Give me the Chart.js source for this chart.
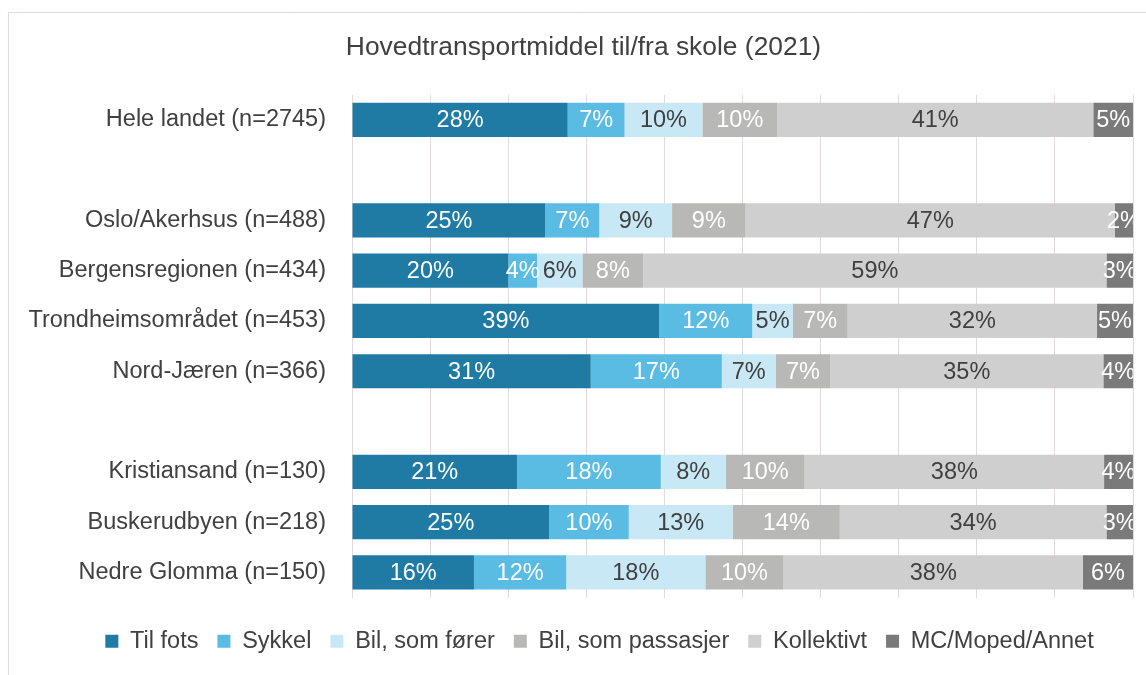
<!DOCTYPE html>
<html>
<head>
<meta charset="utf-8">
<script src="https://cdn.jsdelivr.net/npm/chart.js@4"></script>
<style>
  html, body { margin: 0; padding: 0; background: #fff; }
  #wrap { width: 1146px; height: 675px; position: relative; }
</style>
</head>
<body>
<div id="wrap"><canvas id="chart"></canvas></div>
<script>
// categories, blank entries are spacer rows
var categories = ['Hele landet (n=2745)', '', 'Oslo/Akerhsus (n=488)', 'Bergensregionen (n=434)',
  'Trondheimsområdet (n=453)', 'Nord-Jæren (n=366)', '', 'Kristiansand (n=130)',
  'Buskerudbyen (n=218)', 'Nedre Glomma (n=150)'];

// shares in percent
var tilFots      = [27.7, null, 24.7, 20.0, 39.3, 30.6, null, 21.1, 25.2, 15.6];
var sykkel       = [7.3,  null, 6.9,  3.7,  11.9, 16.8, null, 18.4, 10.2, 11.8];
var bilForer     = [10.0, null, 9.3,  5.8,  5.2,  6.9,  null, 8.3,  13.3, 17.8];
var bilPassasjer = [9.6,  null, 9.4,  7.8,  7.0,  7.0,  null, 10.1, 13.7, 10.0];
var kollektivt   = [40.6, null, 47.2, 59.3, 31.9, 35.0, null, 38.3, 34.1, 38.3];
var mcAnnet      = [5.1,  null, 2.3,  3.4,  4.6,  3.8,  null, 3.7,  3.4,  6.4];

var seriesNames = ['Til fots', 'Sykkel', 'Bil, som fører', 'Bil, som passasjer', 'Kollektivt', 'MC/Moped/Annet'];
var seriesData = [tilFots, sykkel, bilForer, bilPassasjer, kollektivt, mcAnnet];
var colors = ['#1F7BA3', '#5BBCE3', '#C8E8F5', '#B8B9B7', '#D0CFD0', '#7A7A7A'];
var labelColors = ['#fff', '#fff', '#404040', '#fff', '#404040', '#fff'];

// 100% stacked: normalise each row to its total
var rowTotals = categories.map(function(c, i) {
  var s = 0;
  seriesData.forEach(function(d) { if (d[i] != null) s += d[i]; });
  return s;
});

var datasets = seriesData.map(function(d, k) {
  return {
    label: seriesNames[k],
    data: d.map(function(v, i) { return v == null ? null : v / rowTotals[i] * 100; }),
    raw: d,
    backgroundColor: colors[k],
    borderWidth: 0,
    categoryPercentage: 0.68,
    barPercentage: 1.0
  };
});

var segmentLabels = {
  id: 'segmentLabels',
  afterDatasetsDraw: function(chart) {
    var ctx = chart.ctx, area = chart.chartArea;
    ctx.save();
    ctx.beginPath();
    ctx.rect(area.left, area.top, area.right - area.left, area.bottom - area.top);
    ctx.clip();
    ctx.font = '23.5px "Liberation Sans", Arial, sans-serif';
    ctx.textAlign = 'center';
    ctx.textBaseline = 'middle';
    chart.data.datasets.forEach(function(ds, k) {
      chart.getDatasetMeta(k).data.forEach(function(bar, i) {
        var v = ds.raw[i];
        if (v == null) return;
        ctx.fillStyle = labelColors[k];
        ctx.fillText(Math.round(v) + '%', (bar.x + bar.base) / 2, bar.y + 1);
      });
    });
    ctx.restore();
  }
};

var frame = {
  id: 'frame',
  afterLayout: function(chart) {
    // title and legend sit right of the canvas centre in the original
    chart.titleBlock.left += 12;
    chart.titleBlock.right += 12;
    chart.legend.left += 28;
    chart.legend.right += 28;
  },
  beforeDraw: function(chart) {
    var ctx = chart.ctx;
    ctx.save();
    ctx.strokeStyle = '#E6D9DE';
    ctx.lineWidth = 1;
    ctx.beginPath();
    ctx.moveTo(8.5, 675);
    ctx.lineTo(8.5, 12.5);
    ctx.lineTo(1146, 12.5);
    ctx.stroke();
    ctx.restore();
  }
};

Chart.defaults.font.family = '"Liberation Sans", Arial, sans-serif';
Chart.defaults.color = '#404040';

new Chart(document.getElementById('chart'), {
  type: 'bar',
  data: { labels: categories, datasets: datasets },
  plugins: [segmentLabels, frame],
  options: {
    indexAxis: 'y',
    responsive: true,
    maintainAspectRatio: false,
    animation: false,
    layout: { padding: { left: 10, right: 13, top: 0, bottom: 12 } },
    scales: {
      x: {
        stacked: true,
        min: 0,
        max: 100,
        ticks: { display: false, stepSize: 10 },
        grid: { color: '#E6D9DE', drawTicks: false },
        border: { display: false },
        afterFit: function(scale) { scale.height = 13; }
      },
      y: {
        stacked: true,
        ticks: { font: { size: 23.5 }, color: '#404040', padding: 18 },
        grid: { display: false },
        border: { display: false },
        afterFit: function(scale) { scale.width = 342; }
      }
    },
    plugins: {
      title: {
        display: true,
        text: 'Hovedtransportmiddel til/fra skole (2021)',
        font: { size: 26.4, weight: 'normal' },
        color: '#404040',
        padding: { top: 32, bottom: 31 }
      },
      legend: {
        position: 'bottom',
        labels: {
          boxWidth: 13,
          boxHeight: 13,
          padding: 19,
          font: { size: 23.5 },
          color: '#404040'
        }
      },
      tooltip: { enabled: false }
    }
  }
});
</script>
</body>
</html>
